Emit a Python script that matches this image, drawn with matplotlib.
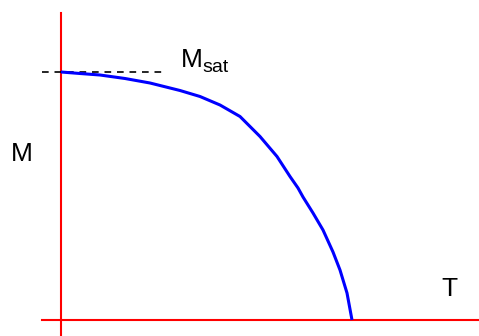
import matplotlib
matplotlib.use("Agg")
import matplotlib.pyplot as plt

# magnetisation curve (pixel-like units, y down)
temp = [61, 80, 100, 125, 150, 180, 200, 220, 240, 260, 277, 290, 298, 303, 313, 323, 333, 340, 347, 352]
mag = [72, 73.5, 75, 78.5, 83, 90.5, 96.5, 105, 116.5, 136.5, 156.5, 176.5, 188, 197, 213, 230, 252, 270, 293, 320]

msat = 72
x_axis_y = 320
y_axis_x = 61

fig = plt.figure(figsize=(4.79, 3.36), dpi=100)
ax = fig.add_axes([0, 0, 1, 1])
ax.set_xlim(0, 479)
ax.set_ylim(336, 0)
ax.axis("off")

# axes
ax.plot([y_axis_x, y_axis_x], [13, 336], color="red", lw=1.5)
ax.plot([42, 479], [x_axis_y, x_axis_y], color="red", lw=1.5)

# saturation level
ax.plot([42, 162], [msat, msat], color="black", lw=1.2, dashes=(4, 3.5))

ax.plot(temp, mag, color="#0000ff", lw=2.2, solid_capstyle="butt",
        solid_joinstyle="round")

font = "Liberation Sans"
ax.text(22, 154, "M", fontsize=19, family=font, ha="center", va="center")
ax.text(449, 289, "T", fontsize=19, family=font, ha="center", va="center")
ax.text(181, 67, "M", fontsize=19, family=font, ha="left", va="baseline")
ax.text(202, 72, "sat", fontsize=14, family=font, ha="left", va="baseline")

fig.savefig("out.png", dpi=100)
